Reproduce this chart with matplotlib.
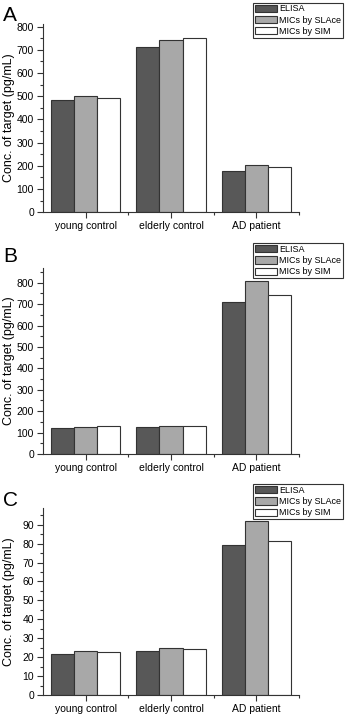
import matplotlib
matplotlib.use('Agg')
from matplotlib import pyplot as plt
from matplotlib.ticker import FixedLocator, MultipleLocator

plt.rcParams['font.family'] = ['Liberation Sans', 'DejaVu Sans']

#------- data -----------
groups = ['young control', 'elderly control', 'AD patient']
series = ['ELISA', 'MICs by SLAce', 'MICs by SIM']
colors = ['#585858', '#a8a8a8', '#ffffff']

# panel A
a_elisa = [482, 714, 178]
a_slace = [503, 744, 203]
a_sim = [493, 749, 195]
# panel B
b_elisa = [120, 125, 708]
b_slace = [127, 131, 810]
b_sim = [130, 133, 745]
# panel C
c_elisa = [21.8, 23.3, 79.3]
c_slace = [23.2, 24.8, 91.7]
c_sim = [22.6, 24.2, 81.3]
#------------------------

W, H = 347, 714
fig = plt.figure(figsize=(W / 100, H / 100), dpi=100)


def px(x0, y_top, x1, y_bot):
    # pixel box -> figure fraction
    return [x0 / W, 1 - y_bot / H, (x1 - x0) / W, (y_bot - y_top) / H]


panels = [
    # letter, values, ylim, major, minor, axes box (px), letter y, legend top
    ('A', [a_elisa, a_slace, a_sim], 811, 100, 50, (43, 24, 299, 212.3), 21, 2.5),
    ('B', [b_elisa, b_slace, b_sim], 869, 100, 50, (43, 268, 299, 454), 262, 243),
    ('C', [c_elisa, c_slace, c_sim], 98.8, 10, 5, (43, 508, 299, 695), 506, 484),
]

bw = 0.27
for letter, vals, ymax, major, minor, box, ly, legtop in panels:
    ax = fig.add_axes(px(*box))
    for i, (name, col) in enumerate(zip(series, colors)):
        xs = [g + (i - 1) * bw for g in range(len(groups))]
        ax.bar(xs, vals[i], width=bw, color=col, edgecolor='#333333',
               linewidth=0.8, label=name)
    ax.set_xlim(-0.5, 2.5)
    ax.set_ylim(0, ymax)
    ax.set_xticks(range(len(groups)))
    ax.set_xticklabels(groups)
    ax.xaxis.set_minor_locator(FixedLocator([0.5, 1.5, 2.5]))
    ax.yaxis.set_major_locator(MultipleLocator(major))
    ax.yaxis.set_minor_locator(MultipleLocator(minor))
    ax.spines['top'].set_visible(False)
    ax.spines['right'].set_visible(False)
    for s in ['left', 'bottom']:
        ax.spines[s].set_color('#333333')
        ax.spines[s].set_linewidth(0.8)
    ax.tick_params(which='both', direction='out', labelsize=7.5, color='#333333', width=0.8)
    ax.tick_params(which='major', length=4, pad=2.5)
    ax.tick_params(which='minor', length=2)
    # y label at a fixed spot so all three panels line up
    yc = (box[1] + box[3]) / 2
    fig.text(9 / W, 1 - yc / H, 'Conc. of target (pg/mL)', fontsize=9,
             rotation=90, ha='center', va='center')
    fig.text(3 / W, 1 - ly / H, letter, fontsize=15, ha='left', va='baseline')
    leg = ax.legend(loc='upper right', bbox_to_anchor=(343 / W, 1 - legtop / H),
                    bbox_transform=fig.transFigure, fontsize=6.5, frameon=True,
                    fancybox=False, framealpha=1, edgecolor='#333333',
                    handlelength=2.4, handleheight=0.85, handletextpad=0.25,
                    labelspacing=0.25, borderpad=0.2, borderaxespad=0)
    leg.get_frame().set_linewidth(0.8)

fig.savefig('out.png', dpi=100)
